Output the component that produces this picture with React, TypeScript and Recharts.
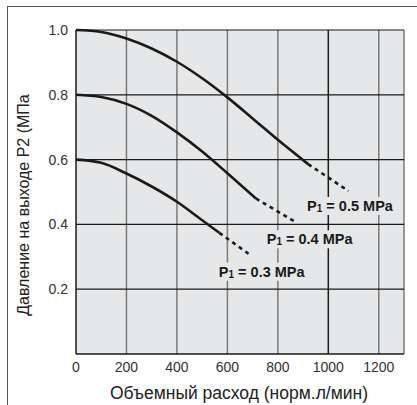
import { LineChart, Line, XAxis, YAxis, ReferenceLine, ReferenceDot, Label } from 'recharts'

// flow (норм.л/мин) and outlet pressure (MPa)
const flow05 = [0, 100, 200, 300, 400, 500, 600, 700, 800, 920]
const pres05 = [1.0, 0.994, 0.974, 0.943, 0.902, 0.851, 0.792, 0.727, 0.661, 0.586]
const flow05Dash = [920, 1080]
const pres05Dash = [0.586, 0.503]

const flow04 = [0, 100, 200, 300, 400, 500, 600, 713]
const pres04 = [0.8, 0.793, 0.772, 0.735, 0.684, 0.625, 0.558, 0.48]
const flow04Dash = [713, 875]
const pres04Dash = [0.48, 0.405]

const flow03 = [0, 100, 200, 300, 400, 500, 568]
const pres03 = [0.6, 0.59, 0.557, 0.517, 0.47, 0.413, 0.374]
const flow03Dash = [568, 690]
const pres03Dash = [0.374, 0.306]

const xTicks = [0, 200, 400, 600, 800, 1000, 1200]
const yTicks = [0.2, 0.4, 0.6, 0.8, 1.0]

const labels = [
  { x: 1086, y: 0.457, value: '0.5' },
  { x: 926, y: 0.354, value: '0.4' },
  { x: 736, y: 0.254, value: '0.3' },
]

const pts = (xs: number[], ys: number[]) => xs.map((x, i) => ({ x, y: ys[i] }))

const FONT = "'Liberation Sans', Arial, Helvetica, sans-serif"
const BG = '#e6e7e8'
const INK = '#1a1a1a'
const GRID_V = '#7a7a7a'

const LabelShape = (props: any) => {
  const { cx, cy, value } = props
  return (
    <g>
      <rect x={cx - 48} y={cy - 9} width={96} height={18} fill={BG} />
      <text x={cx} y={cy + 5} textAnchor="middle" fontSize={14.5} fontWeight="bold" fill={INK}
        fontFamily={FONT}>
        <tspan>P</tspan>
        <tspan fontSize={10} dy={1}>1</tspan>
        <tspan dy={-1}>{` = ${value} MPa`}</tspan>
      </text>
    </g>
  )
}

export default function App() {
  const series = [
    { d: pts(flow05, pres05), dash: false },
    { d: pts(flow05Dash, pres05Dash), dash: true },
    { d: pts(flow04, pres04), dash: false },
    { d: pts(flow04Dash, pres04Dash), dash: true },
    { d: pts(flow03, pres03), dash: false },
    { d: pts(flow03Dash, pres03Dash), dash: true },
  ]

  return (
    <div style={{ position: 'absolute', left: 0, top: 0, width: 417, height: 405, background: '#fff',
      fontFamily: FONT }}>
      <div style={{ position: 'absolute', left: 7, top: 6, right: 0, bottom: 0,
        borderTop: '1.5px solid #555', borderLeft: '1.5px solid #555' }} />
      <LineChart width={417} height={405} margin={{ top: 30, right: 13, bottom: 21, left: 36 }}
        style={{ position: 'absolute', left: 0, top: 0, fontFamily: FONT }}>
        <rect x={76} y={30} width={328} height={324} fill={BG} />
        <XAxis dataKey="x" type="number" domain={[0, 1300]} ticks={xTicks} height={30}
          tickLine={false} axisLine={{ stroke: INK, strokeWidth: 1.5 }}
          tick={{ fontSize: 14, fill: '#333', fontFamily: FONT }} allowDataOverflow>
          <Label content={() => (
            <text x={239} y={399} textAnchor="middle" fontSize={17.5} fill="#222" fontFamily={FONT}>
              Объемный расход (норм.л/мин)
            </text>
          )} />
        </XAxis>
        <YAxis type="number" domain={[0, 1]} ticks={yTicks} width={40}
          tickLine={false} axisLine={{ stroke: INK, strokeWidth: 1.5 }}
          tick={{ fontSize: 14, fill: '#333', fontFamily: FONT }} tickFormatter={(v: number) => v.toFixed(1)}>
          <Label content={() => (
            <text x={29} y={205} transform="rotate(-90 29 205)" textAnchor="middle" fontSize={16} fill="#222"
              fontFamily={FONT}>
              Давление на выходе P2 (МПа
            </text>
          )} />
        </YAxis>
        {xTicks.filter(v => v > 0).map(v => (
          <ReferenceLine key={'v' + v} x={v} stroke={v === 1000 ? INK : GRID_V} strokeWidth={1.5} />
        ))}
        <ReferenceLine x={1300} stroke={GRID_V} strokeWidth={1.5} />
        {yTicks.map(v => (
          <ReferenceLine key={'h' + v} y={v} stroke={INK} strokeWidth={1.2} />
        ))}
        {series.map((s, i) => (
          <Line key={i} data={s.d} dataKey="y" type="monotone" stroke={INK} strokeWidth={2.6}
            strokeDasharray={s.dash ? '4 4' : undefined} dot={false} activeDot={false}
            isAnimationActive={false} />
        ))}
        {labels.map(l => (
          <ReferenceDot key={l.value} x={l.x} y={l.y} r={0}
            shape={(p: any) => <LabelShape {...p} value={l.value} />} />
        ))}
      </LineChart>
    </div>
  )
}
